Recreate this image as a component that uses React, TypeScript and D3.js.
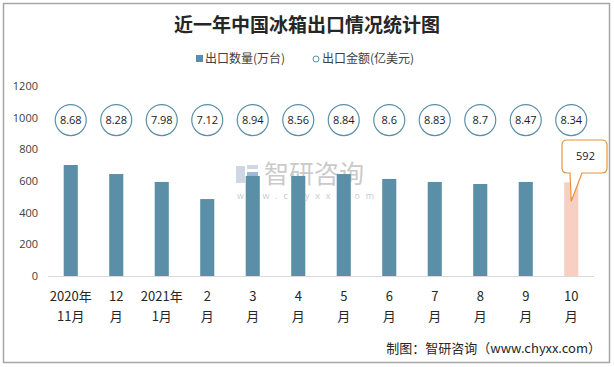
import * as React from "react";
import * as d3 from "d3";

const topLabels = ["2020年", "12", "2021年", "2", "3", "4", "5", "6", "7", "8", "9", "10"];
const bottomLabels = ["11月", "月", "1月", "月", "月", "月", "月", "月", "月", "月", "月", "月"];
const quantity = [701, 644, 594, 486, 632, 632, 644, 613, 594, 581, 594, 592];
const amount = [8.68, 8.28, 7.98, 7.12, 8.94, 8.56, 8.84, 8.6, 8.83, 8.7, 8.47, 8.34];
const yTicks = [0, 200, 400, 600, 800, 1000, 1200];

const cjk = "'Noto Sans CJK SC', 'Noto Sans', sans-serif";
const num = "'Open Sans', 'Noto Sans', sans-serif";

export default function App() {
  const ref = React.useRef<SVGSVGElement>(null);

  React.useEffect(() => {
    document.body.style.margin = "0";
    const svg = d3.select(ref.current);
    svg.selectAll("*").remove();

    const barColor = "#5b8fa8";
    const lastColor = "#f8cfc3";
    const bubbleLevel = 985; // bubbles sit on a fixed row

    const x = d3
      .scaleBand<number>()
      .domain(d3.range(quantity.length))
      .range([48, 594])
      .paddingInner(0.69)
      .paddingOuter(0.345);
    const y = d3.scaleLinear().domain([0, 1200]).range([276, 86]);

    // frame
    svg
      .append("rect")
      .attr("x", 3.5)
      .attr("y", 3.5)
      .attr("width", 606)
      .attr("height", 359)
      .attr("fill", "#fff")
      .attr("stroke", "#a6a6a6")
      .attr("stroke-width", 1.5);

    // title
    svg
      .append("text")
      .attr("x", 307)
      .attr("y", 32)
      .attr("text-anchor", "middle")
      .attr("font-family", cjk)
      .attr("font-weight", "bold")
      .attr("font-size", 19)
      .attr("fill", "#262626")
      .text("近一年中国冰箱出口情况统计图");

    // legend
    const lg = svg.append("g").attr("font-family", cjk).attr("font-size", 12).attr("fill", "#404040");
    lg.append("rect").attr("x", 196).attr("y", 55).attr("width", 7).attr("height", 7).attr("fill", barColor);
    lg.append("text").attr("x", 205).attr("y", 63).text("出口数量(万台)");
    lg.append("circle").attr("cx", 316).attr("cy", 59).attr("r", 3).attr("fill", "#fff").attr("stroke", barColor);
    lg.append("text").attr("x", 322).attr("y", 63).text("出口金额(亿美元)");

    // y axis labels
    svg
      .append("g")
      .selectAll("text")
      .data(yTicks)
      .enter()
      .append("text")
      .attr("x", 38)
      .attr("y", (d) => y(d) + 4)
      .attr("text-anchor", "end")
      .attr("font-family", num)
      .attr("font-size", 11)
      .attr("fill", "#404040")
      .text((d) => d);

    // watermark
    const wm = svg.append("g").attr("opacity", 0.55);
    wm.append("rect").attr("x", 236).attr("y", 166).attr("width", 9).attr("height", 17).attr("fill", "#a9b7cc");
    wm.append("rect").attr("x", 247).attr("y", 172).attr("width", 11).attr("height", 11).attr("fill", "#4f7fb8");
    wm.append("rect").attr("x", 247).attr("y", 165).attr("width", 11).attr("height", 4).attr("fill", "#a9b7cc");
    wm.append("text")
      .attr("x", 264)
      .attr("y", 183)
      .attr("font-family", cjk)
      .attr("font-size", 25)
      .attr("fill", "#a0a0a0")
      .text("智研咨询");
    wm.append("text")
      .attr("x", 237)
      .attr("y", 199)
      .attr("font-family", num)
      .attr("font-size", 9)
      .attr("letter-spacing", 5.8)
      .attr("fill", "#a0a0a0")
      .text("www.chyxx.com");

    // bars
    svg
      .append("g")
      .selectAll("rect")
      .data(quantity)
      .enter()
      .append("rect")
      .attr("x", (_d, i) => x(i)!)
      .attr("y", (d) => y(d))
      .attr("width", x.bandwidth())
      .attr("height", (d) => y(0) - y(d))
      .attr("fill", (_d, i) => (i === quantity.length - 1 ? lastColor : barColor));

    // axis line
    svg
      .append("line")
      .attr("x1", 48)
      .attr("x2", 594)
      .attr("y1", y(0) + 0.5)
      .attr("y2", y(0) + 0.5)
      .attr("stroke", "#d9d9d9");

    // x labels
    const xl = svg
      .append("g")
      .attr("font-family", cjk)
      .attr("font-size", 13)
      .attr("fill", "#262626")
      .attr("text-anchor", "middle");
    topLabels.forEach((t, i) => {
      const cx = x(i)! + x.bandwidth() / 2;
      xl.append("text").attr("x", cx).attr("y", 301).text(t);
      xl.append("text").attr("x", cx).attr("y", 321).text(bottomLabels[i]);
    });

    // bubbles
    const bub = svg
      .append("g")
      .selectAll("g")
      .data(amount)
      .enter()
      .append("g")
      .attr("transform", (_d, i) => `translate(${x(i)! + x.bandwidth() / 2},${y(bubbleLevel)})`);
    bub.append("circle").attr("r", 15.5).attr("fill", "#fff").attr("stroke", barColor).attr("stroke-width", 1.2);
    bub
      .append("text")
      .attr("text-anchor", "middle")
      .attr("y", 4)
      .attr("font-family", num)
      .attr("font-size", 11)
      .attr("fill", "#1a1a1a")
      .text((d) => d);

    // callout for last bar
    const li = quantity.length - 1;
    const tipX = x(li)! + x.bandwidth() / 2;
    const tipY = y(quantity[li]) + 19;
    const bx = 562, by = 140, bw = 45, bh = 33, r = 5;
    const path = d3.path();
    path.moveTo(bx + r, by);
    path.lineTo(bx + bw - r, by);
    path.quadraticCurveTo(bx + bw, by, bx + bw, by + r);
    path.lineTo(bx + bw, by + bh - r);
    path.quadraticCurveTo(bx + bw, by + bh, bx + bw - r, by + bh);
    path.lineTo(bx + 20, by + bh);
    path.lineTo(tipX, tipY);
    path.lineTo(bx + 8, by + bh);
    path.lineTo(bx + r, by + bh);
    path.quadraticCurveTo(bx, by + bh, bx, by + bh - r);
    path.lineTo(bx, by + r);
    path.quadraticCurveTo(bx, by, bx + r, by);
    path.closePath();
    svg
      .append("path")
      .attr("d", path.toString())
      .attr("fill", "#fff")
      .attr("stroke", "#e8923a")
      .attr("stroke-width", 1.2);
    svg
      .append("text")
      .attr("x", bx + bw / 2 + 1)
      .attr("y", by + 20)
      .attr("text-anchor", "middle")
      .attr("font-family", num)
      .attr("font-size", 11)
      .attr("fill", "#1a1a1a")
      .text(quantity[li]);

    // footer
    svg
      .append("text")
      .attr("x", 601)
      .attr("y", 353)
      .attr("text-anchor", "end")
      .attr("font-family", cjk)
      .attr("font-size", 13)
      .attr("fill", "#262626")
      .text("制图：智研咨询（www.chyxx.com）");
  }, []);

  return <svg ref={ref} width={614} height={367} style={{ display: "block" }} />;
}
